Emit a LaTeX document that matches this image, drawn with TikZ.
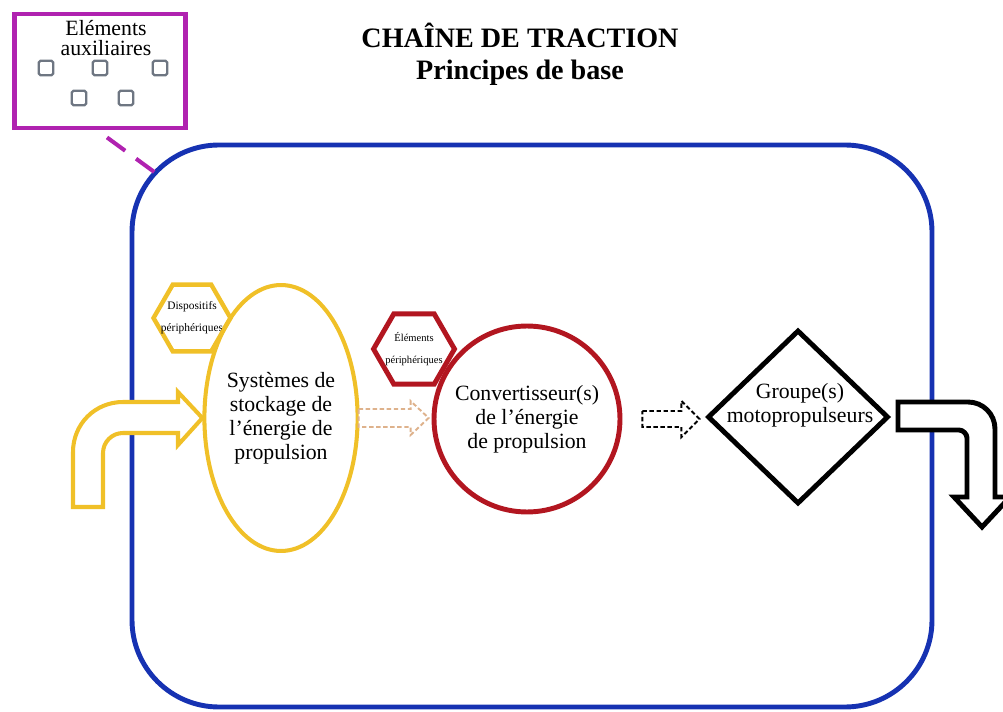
\documentclass[tikz,border=0pt]{standalone}
\usepackage{fontspec}
\setmainfont{Liberation Serif}
\usepackage{xcolor}
\usepackage{tikz}
\usetikzlibrary{positioning,shapes.geometric}

\definecolor{frameblue}{RGB}{22,50,178}
\definecolor{auxpurple}{RGB}{176,34,176}
\definecolor{stockyellow}{RGB}{240,192,40}
\definecolor{convred}{RGB}{178,22,32}
\definecolor{lighttan}{RGB}{222,178,140}
\definecolor{sqgray}{RGB}{110,118,130}

\tikzset{
    hexlabel/.style={align=center, inner sep=0pt},
    bodytext/.style={align=center, font=\fontsize{12.4}{13.6}\selectfont},
}

\begin{document}
\begin{tikzpicture}[x=0.02cm, y=-0.02cm]
    \useasboundingbox (0,0) rectangle (1003,712);
    \clip (0,0) rectangle (1003,712);
    \node [align=center, font=\fontsize{16}{18}\selectfont\bfseries] (title) at (520,54) {CHAÎNE DE TRACTION\\Principes de base};
    \draw [frameblue, line width=2.8pt, rounded corners=1.74cm] (132,145) rectangle (932,707);
    \coordinate (cnr) at (157,174);
    \node [draw=auxpurple, line width=2.8pt, minimum width=3.42cm, minimum height=2.28cm] (aux) at (100,71) {};
    \node [align=center, font=\fontsize{12.4}{11.5}\selectfont, inner sep=0pt] (auxtxt) at (106,38) {Eléments\\auxiliaires};
    \foreach \x/\y [count=\i] in {46/68,100/68,160/68,79/98,126/98}
        \node [draw=sqgray, line width=1.3pt, rounded corners=1pt, minimum size=0.29cm, inner sep=0pt] (sq\i) at (\x,\y) {};
    \draw [auxpurple, line width=2.3pt, dash pattern=on 0.45cm off 0.27cm] ([xshift=0.14cm, yshift=-0.14cm]aux.south) -- (cnr);
    \node [regular polygon, regular polygon sides=6, draw=stockyellow, line width=2.5pt, fill=white, minimum size=1.54cm, inner sep=0pt,
        label={[hexlabel, font=\fontsize{6.5}{12.5}\selectfont]center:Dispositifs\\périphériques}] (dispo) at (192,318) {};
    \node [ellipse, draw=stockyellow, line width=2.3pt, minimum width=2.88cm, minimum height=5.32cm, inner sep=0pt, bodytext] (stock) at (281,418) {Systèmes de\\stockage de\\l’énergie de\\propulsion};
    \draw [stockyellow, line width=2.3pt, fill=white] (73,507) -- (73,452) .. controls (73,424) and (95,402) .. (123,402) -- (178,402) -- (178,392) -- (stock.west) -- (178,445) -- (178,433) -- (123,433) .. controls (112,433) and (103,442) .. (103,453) -- (103,507) -- cycle;
    \draw [lighttan, line width=1.1pt, dash pattern=on 2.5pt off 1.5pt, fill=white] (stock.east) ++(-1,-9) -- ++(52,0) -- ++(0,-8) -- ++(18,17) -- ++(-18,17) -- ++(0,-8) -- ++(-52,0) -- cycle;
    \node [regular polygon, regular polygon sides=6, draw=convred, line width=2.8pt, fill=white, minimum size=1.62cm, inner sep=0pt,
        label={[hexlabel, font=\fontsize{6}{12.5}\selectfont]center:Éléments\\périphériques}] (elem) at (414,349) {};
    \node [circle, draw=convred, line width=2.8pt, minimum size=3.72cm, inner sep=0pt, bodytext] (conv) at (527,419) {Convertisseur(s)\\de l’énergie\\de propulsion};
    \draw [black, line width=1.1pt, dash pattern=on 2.5pt off 1.5pt, fill=white] (conv.east) ++(20,-8) -- ++(39,0) -- ++(0,-10) -- ++(18,18) -- ++(-18,18) -- ++(0,-10) -- ++(-39,0) -- cycle;
    \node [diamond, draw=black, line width=2.8pt, minimum width=3.62cm, minimum height=3.48cm, inner sep=0pt] (grp) at (798,417) {};
    \node [bodytext, inner sep=0pt] (grptxt) at (800,405) {Groupe(s)\\motopropulseurs};
    \draw [black, line width=2.8pt, fill=white] (898,402) -- (968,402) .. controls (983,402) and (995,414) .. (995,429) -- (995,497) -- (1010,497) -- (982,527) -- (954,497) -- (967,497) -- (967,438) .. controls (967,434) and (963,430) .. (959,430) -- (898,430) -- cycle;
\end{tikzpicture}
\end{document}
